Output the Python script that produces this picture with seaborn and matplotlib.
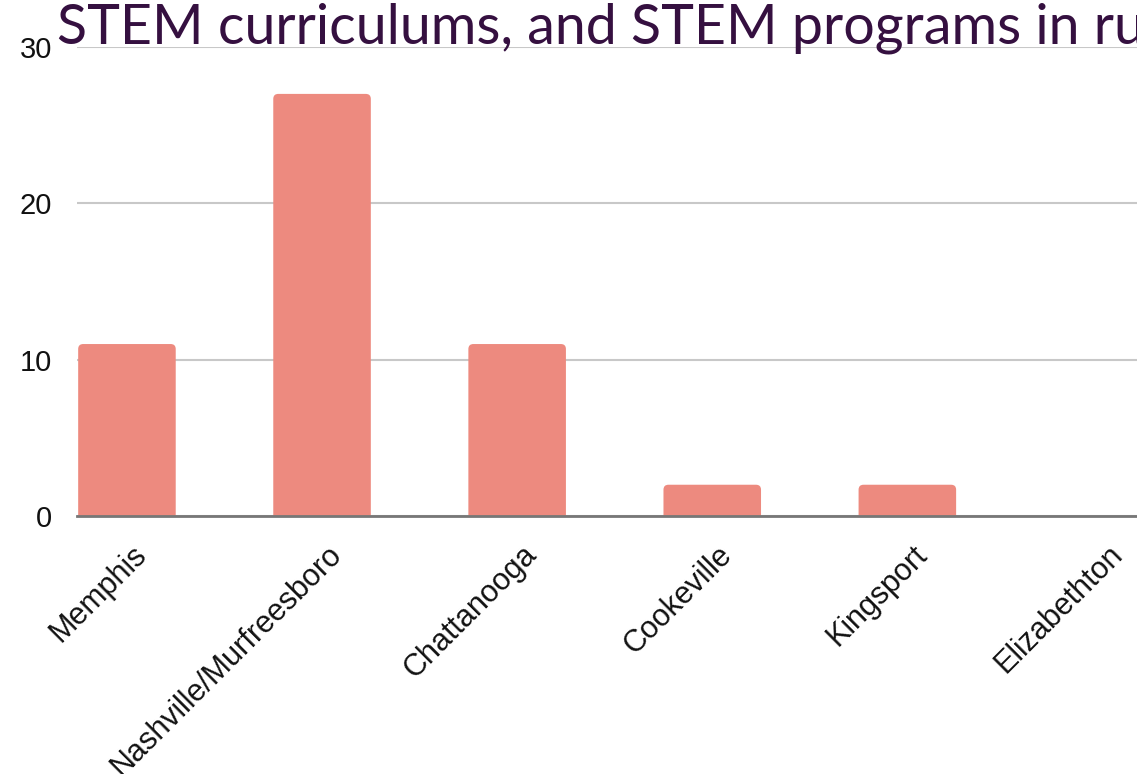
import numpy as np
import pandas as pd
import seaborn as sns
import matplotlib.pyplot as plt
from matplotlib.patches import FancyBboxPatch
import matplotlib.transforms as mtransforms

# data
cities = ['Memphis', 'Nashville/Murfreesboro', 'Chattanooga',
          'Cookeville', 'Kingsport', 'Elizabethton']
counts = [11, 27, 11, 2, 2, 0]
y_ticks = [0, 10, 20, 30]
title = 'STEM curriculums, and STEM programs in rural areas'

df = pd.DataFrame({'city': cities, 'count': counts})

sns.set_theme(style='white')
plt.rcParams['font.family'] = ['Liberation Sans', 'DejaVu Sans']

fig = plt.figure(figsize=(11.37, 7.74), dpi=100)
# axes run off the right edge like in the original
ax = fig.add_axes([77 / 1137, 258 / 774, 1123 / 1137, 469 / 774])

bar_color = '#ED8A7F'
sns.barplot(data=df, x='city', y='count', color=bar_color, width=0.5,
            saturation=1, ax=ax, edgecolor='none')

ax.set_xlim(-0.256, 5.5)
ax.set_ylim(0, 30)
ax.set_yticks(y_ticks)

# rounded tops: swap each bar for a rounded box whose lower corners
# sit below y=0 and get clipped away
px_per_x = 195.0
px_per_y = 469 / 30
asp = px_per_x / px_per_y
r = 5 / px_per_x
for p in ax.patches[:]:
    h = p.get_height()
    p.set_visible(False)
    if h <= 0:
        continue
    x0, w = p.get_x(), p.get_width()
    rb = FancyBboxPatch((x0 + r, 0), w - 2 * r, h - r * asp,
                        boxstyle=f'round,pad={r},rounding_size={r}',
                        mutation_aspect=asp,
                        facecolor=bar_color, edgecolor='none', zorder=2)
    ax.add_patch(rb)

ax.grid(axis='y', color='#c8c8c8', linewidth=1.5)
ax.set_axisbelow(True)
for s in ['top', 'right', 'left']:
    ax.spines[s].set_visible(False)
ax.spines['bottom'].set_color('#777777')
ax.spines['bottom'].set_linewidth(2)
ax.spines['bottom'].set_zorder(3)

ax.set_xlabel('')
ax.set_ylabel('')
ax.tick_params(axis='y', length=0, pad=18, labelsize=21, colors='#111111')
ax.tick_params(axis='x', length=0, pad=17, labelsize=22, colors='#111111')

offset = mtransforms.ScaledTranslation(5 / 100, 0, fig.dpi_scale_trans)
for lab in ax.get_xticklabels():
    lab.set_rotation(45)
    lab.set_ha('right')
    lab.set_va('top')
    lab.set_rotation_mode('anchor')
    lab.set_transform(lab.get_transform() + offset)

fig.text(57 / 1137, 1 - 44 / 774, title, fontsize=40, color='#351040',
         family=['Lato', 'DejaVu Sans'], va='baseline', ha='left')

fig.savefig('out.png', dpi=100)
